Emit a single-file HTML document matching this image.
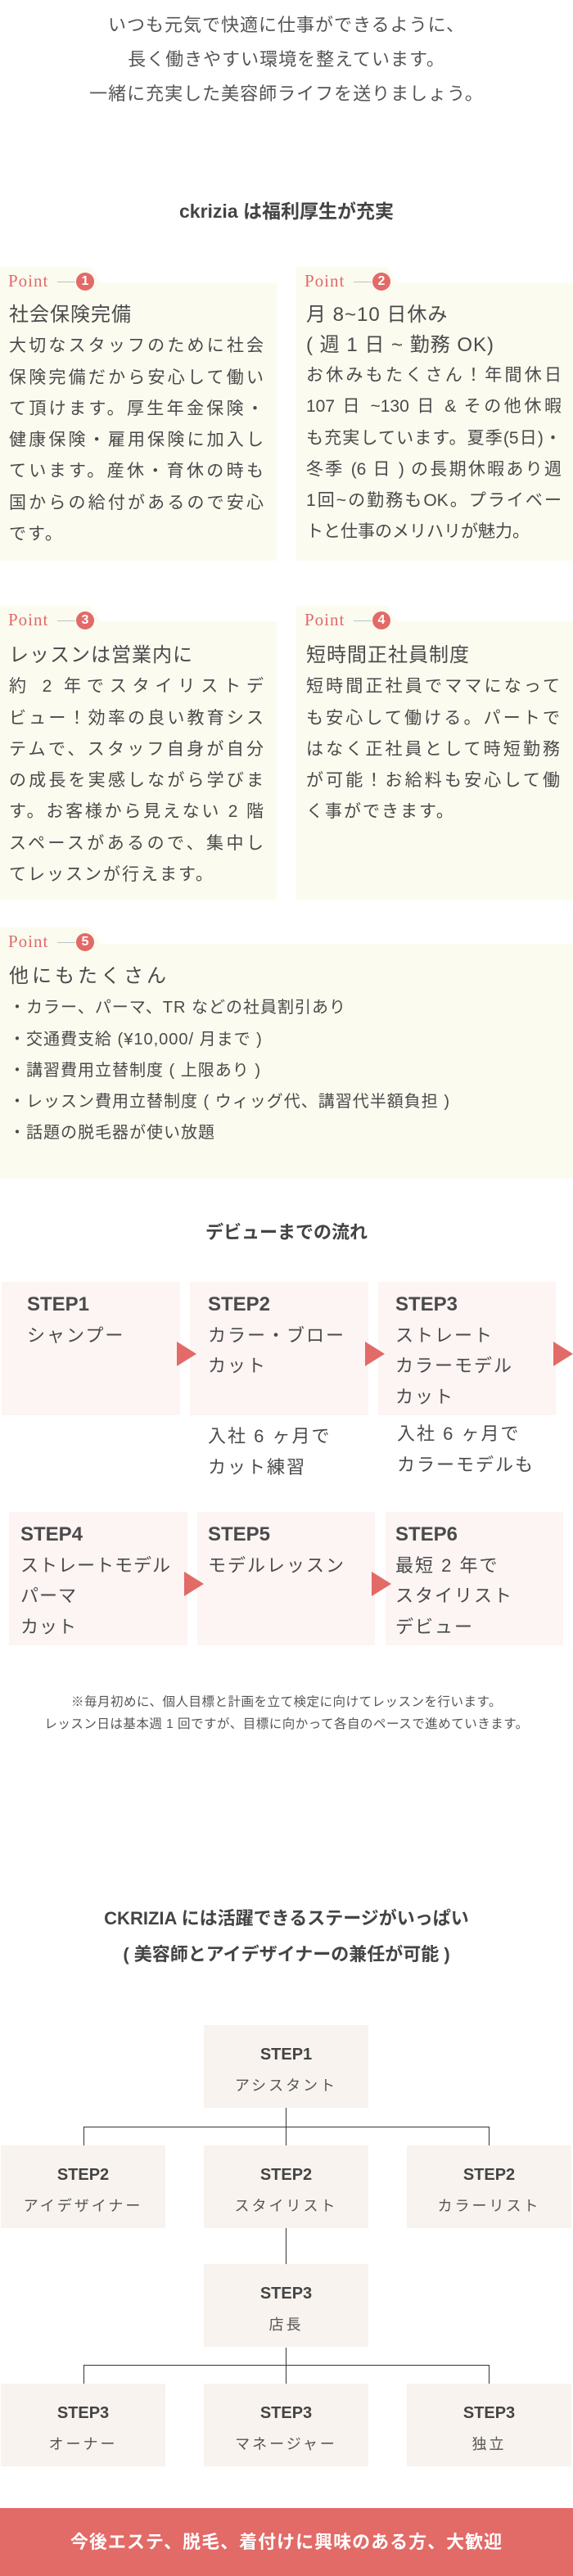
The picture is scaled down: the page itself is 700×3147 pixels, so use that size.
<!DOCTYPE html>
<html><head><meta charset="utf-8"><style>
*{margin:0;padding:0;box-sizing:border-box}
body{width:700px;height:3147px;position:relative;background:#fff;font-family:"Liberation Sans","Noto Sans CJK JP",sans-serif;color:#4a4a4a;overflow:hidden}
.a{position:absolute}
.intro{left:0;width:700px;top:10px;text-align:center;font-size:22px;line-height:42px;letter-spacing:1px;color:#555}
.h{left:0;width:700px;text-align:center;font-weight:bold;font-size:23px;color:#444}
.pb{background:#fbfbf0}
.tab{background:#fbfbf0;height:22px;width:125px;clip-path:polygon(0 0,110px 0,125px 22px,0 22px)}
.pl{font-family:"Liberation Serif",serif;color:#e26a67;font-size:21px;letter-spacing:1px}
.pline{height:1px;background:#b8c4c4;width:22px}
.num{width:22px;height:22px;border-radius:50%;background:#e26a67;color:#fff;font-weight:bold;font-size:16px;text-align:center;line-height:22px}
.txt{font-size:21px;line-height:38.3px;letter-spacing:2px;color:#4a4a4a}
.txt .t{font-size:24px;letter-spacing:1px}
.j{text-align-last:justify;text-align:justify;white-space:nowrap}
.sb{background:#fdf4f4}
.st{font-size:22px;line-height:37.5px;letter-spacing:2px;color:#4a4a4a}
.st b{font-size:24px;letter-spacing:0}
.tri{width:0;height:0;border-top:15px solid transparent;border-bottom:15px solid transparent;border-left:24px solid #e26a67}
.ob{background:#f8f3ee;text-align:center;width:201px;height:101px}
.ob b{display:block;font-size:20px;margin-top:23px;line-height:26px;color:#444}
.ob span{display:block;font-size:18px;letter-spacing:3px;line-height:26px;margin-top:12px;color:#555}
.ln{background:#333}
</style></head><body>

<div class="a intro">いつも元気で快適に仕事ができるように、<br>長く働きやすい環境を整えています。<br>一緒に充実した美容師ライフを送りましょう。</div>

<div class="a h" style="top:239px">ckrizia は福利厚生が充実</div>

<!-- Point 1 -->
<div class="a tab" style="left:0;top:326px"></div>
<div class="a pb" style="left:0;top:346px;width:338px;height:339px"></div>
<div class="a pl" style="left:10px;top:331px">Point</div><div class="a pline" style="left:70px;top:344px"></div><div class="a num" style="left:93px;top:333px">1</div>
<div class="a txt" style="left:11px;top:366px;width:313px"><div class="t">社会保険完備</div>
<div class="j">大切なスタッフのために社会</div><div class="j">保険完備だから安心して働い</div><div class="j">て頂けます。厚生年金保険・</div><div class="j">健康保険・雇用保険に加入し</div><div class="j">ています。産休・育休の時も</div><div class="j">国からの給付があるので安心</div><div>です。</div></div>

<!-- Point 2 -->
<div class="a tab" style="left:362px;top:326px"></div>
<div class="a pb" style="left:362px;top:346px;width:338px;height:339px"></div>
<div class="a pl" style="left:372px;top:331px">Point</div><div class="a pline" style="left:432px;top:344px"></div><div class="a num" style="left:455px;top:333px">2</div>
<div class="a txt" style="left:374px;top:366px;width:312px;letter-spacing:0"><div class="t" style="line-height:37px">月 8~10 日休み</div><div class="t" style="line-height:37px">( 週 1 日 ~ 勤務 OK)</div>
<div class="j">お休みもたくさん！年間休日</div><div class="j">107 日 ~130 日 &amp; その他休暇</div><div class="j">も充実しています。夏季(5日)・</div><div class="j">冬季 (6 日 ) の長期休暇あり週</div><div class="j">1回~の勤務もOK。プライベー</div><div style="white-space:nowrap">トと仕事のメリハリが魅力。</div></div>

<!-- Point 3 -->
<div class="a tab" style="left:0;top:740px"></div>
<div class="a pb" style="left:0;top:759px;width:338px;height:340px"></div>
<div class="a pl" style="left:10px;top:745px">Point</div><div class="a pline" style="left:70px;top:758px"></div><div class="a num" style="left:93px;top:747px">3</div>
<div class="a txt" style="left:11px;top:782px;width:313px"><div class="t">レッスンは営業内に</div>
<div class="j">約 2 年でスタイリストデ</div><div class="j">ビュー！効率の良い教育シス</div><div class="j">テムで、スタッフ自身が自分</div><div class="j">の成長を実感しながら学びま</div><div class="j">す。お客様から見えない 2 階</div><div class="j">スペースがあるので、集中し</div><div>てレッスンが行えます。</div></div>

<!-- Point 4 -->
<div class="a tab" style="left:362px;top:740px"></div>
<div class="a pb" style="left:362px;top:759px;width:338px;height:340px"></div>
<div class="a pl" style="left:372px;top:745px">Point</div><div class="a pline" style="left:432px;top:758px"></div><div class="a num" style="left:455px;top:747px">4</div>
<div class="a txt" style="left:374px;top:782px;width:312px"><div class="t">短時間正社員制度</div>
<div class="j">短時間正社員でママになって</div><div class="j">も安心して働ける。パートで</div><div class="j">はなく正社員として時短勤務</div><div class="j">が可能！お給料も安心して働</div><div>く事ができます。</div></div>

<!-- Point 5 -->
<div class="a tab" style="left:0;top:1133px"></div>
<div class="a pb" style="left:0;top:1153px;width:700px;height:287px"></div>
<div class="a pl" style="left:10px;top:1138px">Point</div><div class="a pline" style="left:70px;top:1151px"></div><div class="a num" style="left:93px;top:1140px">5</div>
<div class="a txt" style="left:11px;top:1174px;width:680px;font-size:20px;letter-spacing:1px"><div class="t" style="letter-spacing:4px">他にもたくさん</div>
<div>・カラー、パーマ、TR などの社員割引あり</div><div>・交通費支給 (¥10,000/ 月まで )</div><div>・講習費用立替制度 ( 上限あり )</div><div>・レッスン費用立替制度 ( ウィッグ代、講習代半額負担 )</div><div>・話題の脱毛器が使い放題</div></div>

<div class="a h" style="top:1488px;font-size:22px">デビューまでの流れ</div>

<!-- flow row 1 -->
<div class="a sb" style="left:2px;top:1566px;width:218px;height:163px"></div>
<div class="a sb" style="left:232px;top:1566px;width:218px;height:163px"></div>
<div class="a sb" style="left:462px;top:1566px;width:217px;height:163px"></div>
<div class="a tri" style="left:216px;top:1639px"></div>
<div class="a tri" style="left:446px;top:1639px"></div>
<div class="a tri" style="left:676px;top:1639px"></div>
<div class="a st" style="left:33px;top:1575px"><b>STEP1</b><br>シャンプー</div>
<div class="a st" style="left:254px;top:1575px"><b>STEP2</b><br>カラー・ブロー<br>カット</div>
<div class="a st" style="left:483px;top:1575px"><b>STEP3</b><br>ストレート<br>カラーモデル<br>カット</div>
<div class="a st" style="left:254px;top:1736px">入社 6 ヶ月で<br>カット練習</div>
<div class="a st" style="left:485px;top:1733px">入社 6 ヶ月で<br>カラーモデルも</div>

<!-- flow row 2 -->
<div class="a sb" style="left:11px;top:1847px;width:218px;height:163px"></div>
<div class="a sb" style="left:241px;top:1847px;width:217px;height:163px"></div>
<div class="a sb" style="left:471px;top:1847px;width:217px;height:163px"></div>
<div class="a tri" style="left:225px;top:1920px"></div>
<div class="a tri" style="left:454px;top:1920px"></div>
<div class="a st" style="left:25px;top:1856px;letter-spacing:1px"><b>STEP4</b><br>ストレートモデル<br>パーマ<br>カット</div>
<div class="a st" style="left:254px;top:1856px"><b>STEP5</b><br>モデルレッスン</div>
<div class="a st" style="left:483px;top:1856px"><b>STEP6</b><br>最短 2 年で<br>スタイリスト<br>デビュー</div>

<div class="a" style="left:0;width:700px;top:2066px;text-align:center;font-size:15.5px;line-height:27px;color:#555;letter-spacing:.5px">※毎月初めに、個人目標と計画を立て検定に向けてレッスンを行います。<br>レッスン日は基本週 1 回ですが、目標に向かって各自のペースで進めていきます。</div>

<div class="a h" style="top:2322px;font-size:22px;line-height:44px">CKRIZIA には活躍できるステージがいっぱい<br>( 美容師とアイデザイナーの兼任が可能 )</div>

<!-- org chart lines -->
<div class="a ln" style="left:349px;top:2575px;width:1px;height:46px"></div>
<div class="a ln" style="left:102px;top:2598px;width:496px;height:1px"></div>
<div class="a ln" style="left:102px;top:2598px;width:1px;height:23px"></div>
<div class="a ln" style="left:597px;top:2598px;width:1px;height:23px"></div>
<div class="a ln" style="left:349px;top:2721px;width:1px;height:45px"></div>
<div class="a ln" style="left:349px;top:2868px;width:1px;height:44px"></div>
<div class="a ln" style="left:102px;top:2889px;width:496px;height:1px"></div>
<div class="a ln" style="left:102px;top:2889px;width:1px;height:23px"></div>
<div class="a ln" style="left:597px;top:2889px;width:1px;height:23px"></div>

<div class="a ob" style="left:249px;top:2474px"><b>STEP1</b><span>アシスタント</span></div>
<div class="a ob" style="left:1px;top:2621px"><b>STEP2</b><span>アイデザイナー</span></div>
<div class="a ob" style="left:249px;top:2621px"><b>STEP2</b><span>スタイリスト</span></div>
<div class="a ob" style="left:497px;top:2621px"><b>STEP2</b><span>カラーリスト</span></div>
<div class="a ob" style="left:249px;top:2766px"><b>STEP3</b><span>店長</span></div>
<div class="a ob" style="left:1px;top:2912px"><b>STEP3</b><span>オーナー</span></div>
<div class="a ob" style="left:249px;top:2912px"><b>STEP3</b><span>マネージャー</span></div>
<div class="a ob" style="left:497px;top:2912px"><b>STEP3</b><span>独立</span></div>

<div class="a" style="left:0;top:3064px;width:700px;height:83px;background:#e26a67;color:#fff;text-align:center;font-weight:bold;font-size:22px;line-height:83px;letter-spacing:1px">今後エステ、脱毛、着付けに興味のある方、大歓迎</div>
</body></html>
